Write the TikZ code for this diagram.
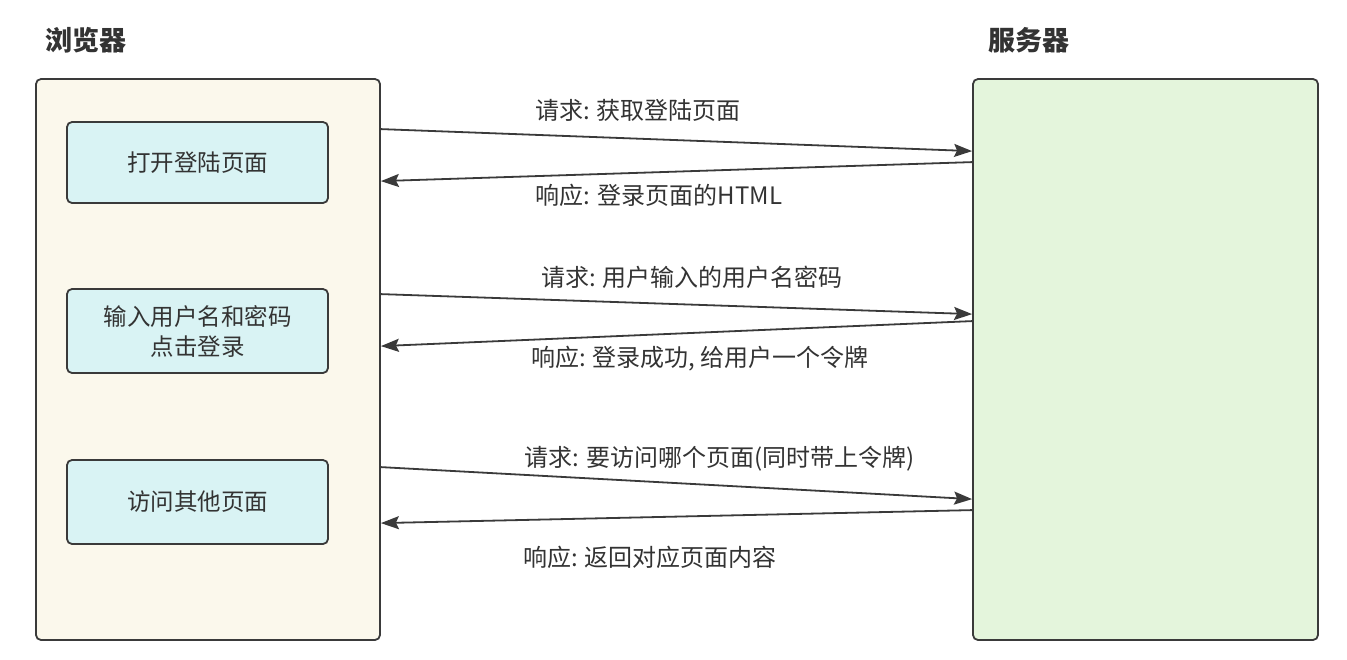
\documentclass[tikz,border=0pt]{standalone}
\usepackage{fontspec}
\setmainfont{Noto Sans CJK SC}
\usetikzlibrary{arrows.meta}
\definecolor{edgec}{HTML}{3A3A3A}
\definecolor{txt}{HTML}{333333}
\definecolor{cream}{HTML}{FBF8EC}
\definecolor{greenf}{HTML}{E4F5DC}
\definecolor{cyanf}{HTML}{D9F3F4}
\begin{document}
\begin{tikzpicture}[x=1pt,y=-1pt,
  panel/.style={draw=edgec, line width=1.8pt, rounded corners=5pt, inner sep=0pt},
  stepbox/.style={draw=edgec, line width=1.8pt, rounded corners=5pt, fill=cyanf,
     minimum width=261pt, text=txt, font=\fontsize{23.5}{30}\selectfont, align=center},
  title/.style={text=txt, font=\fontsize{27}{32}\selectfont\bfseries},
  lbl/.style={text=txt, font=\fontsize{24}{28}\selectfont, inner sep=0pt},
  arr/.style={draw=edgec, line width=1.8pt, -{Stealth[length=18pt,width=13pt,inset=3pt]}}]
\useasboundingbox (0,0) rectangle (1347,659);
\fill[white] (0,0) rectangle (1347,659);

\node[title] (tb) at (86,40) {浏览器};
\node[title] (ts) at (1029,40) {服务器};

\node[panel, fill=cream, minimum width=344pt, minimum height=561pt] (browser) at (208,359.5) {};
\node[panel, fill=greenf, minimum width=345pt, minimum height=561pt] (server) at (1145.5,359.5) {};

\node[stepbox, minimum height=81pt] (b1) at (197.5,162.5) {打开登陆页面};
\node[stepbox, minimum height=84pt] (b2) at (197.5,331) {输入用户名和密码\\点击登录};
\node[stepbox, minimum height=84pt] (b3) at (197.5,502) {访问其他页面};

\draw[arr] ([yshift=-51pt]browser.north east) -- ([yshift=-73pt]server.north west);
\draw[arr] ([yshift=-84pt]server.north west) -- ([yshift=-103pt]browser.north east);
\draw[arr] ([yshift=-216pt]browser.north east) -- ([yshift=-236pt]server.north west);
\draw[arr] ([yshift=-243pt]server.north west) -- ([yshift=-268pt]browser.north east);
\draw[arr] ([yshift=-389pt]browser.north east) -- ([yshift=-421pt]server.north west);
\draw[arr] ([yshift=-432pt]server.north west) -- ([yshift=-445pt]browser.north east);

\node[lbl] (l1) at (638,110) {请求: 获取登陆页面};
\node[lbl] (l2) at (659,195) {响应: 登录页面的HTML};
\node[lbl] (l3) at (692,277) {请求: 用户输入的用户名密码};
\node[lbl] (l4) at (700,359) {响应: 登录成功, 给用户一个令牌};
\node[lbl] (l5) at (720,459) {请求: 要访问哪个页面(同时带上令牌)};
\node[lbl] (l6) at (650,557) {响应: 返回对应页面内容};
\end{tikzpicture}
\end{document}
